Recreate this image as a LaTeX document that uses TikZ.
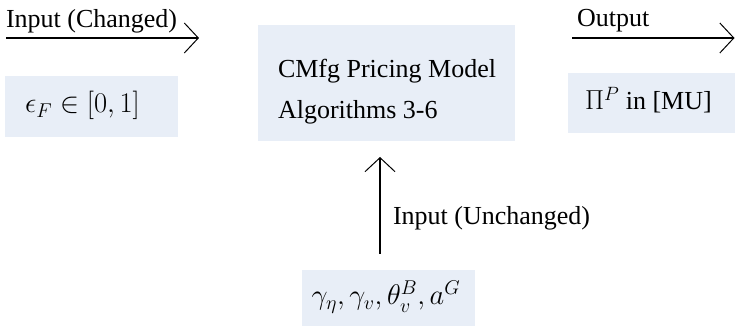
\RequirePackage{fix-cm}
\documentclass[tikz,border=0pt]{standalone}
\usepackage{fontspec}
\setmainfont{Liberation Serif}
\usetikzlibrary{arrows.meta}
\definecolor{boxfill}{RGB}{232,238,247}
\tikzset{
  boxnode/.style={fill=boxfill, draw=none, inner sep=0pt, outer sep=0pt},
  txt/.style={inner sep=0pt, outer sep=0pt, anchor=base west},
  mathtxt/.style={font=\fontsize{28.5}{34}\selectfont},
  conn/.style={line width=1.8pt, -{Straight Barb[length=14pt,width=30pt,line width=1pt]}},
  every node/.style={font=\fontsize{26}{32}\selectfont}
}
\begin{document}
\begin{tikzpicture}[x=1pt,y=1pt]
\useasboundingbox (0,0) rectangle (735,326);
% boxes
\node[boxnode, minimum width=173pt, minimum height=61pt] (inbox) at (91.5,219.5) {};
\node[boxnode, minimum width=257pt, minimum height=116pt] (cm) at (386.5,243) {};
\node[boxnode, minimum width=167pt, minimum height=60pt] (outbox) at (651.5,223) {};
\node[boxnode, minimum width=173pt, minimum height=56pt] (bb) at (388.5,28) {};
% texts
\node[txt, mathtxt] (intext) at (25,213) {$\epsilon_F \in [0,1]$};
\node[txt] (cm1) at (278,248) {CMfg Pricing Model};
\node[txt] (cm2) at (278,207.5) {Algorithms 3-6};
\node[txt] (outtext) at (585,216) {{\fontsize{27.5}{32}\selectfont$\Pi^P$} in [MU]};
\node[inner sep=0pt, anchor=base, mathtxt] (bbtext) at (386,21) {$\gamma_\eta, \gamma_v, \theta_v^B, a^G$};
% arrows
\coordinate (la) at (6,288);
\coordinate (lb) at (199,288);
\coordinate (ra) at (572,288);
\coordinate (rb) at (734.5,288);
\coordinate (va) at (380,72);
\coordinate (vb) at (380,169);
\draw[conn] (la) -- (lb);
\draw[conn] (ra) -- (rb);
\draw[conn] (va) -- (vb);
% labels
\node[txt] (lin) at (6,298) {Input (Changed)};
\node[txt] (lout) at (577,299) {Output};
\node[txt] (lun) at (393,101) {Input (Unchanged)};
\end{tikzpicture}
\end{document}
